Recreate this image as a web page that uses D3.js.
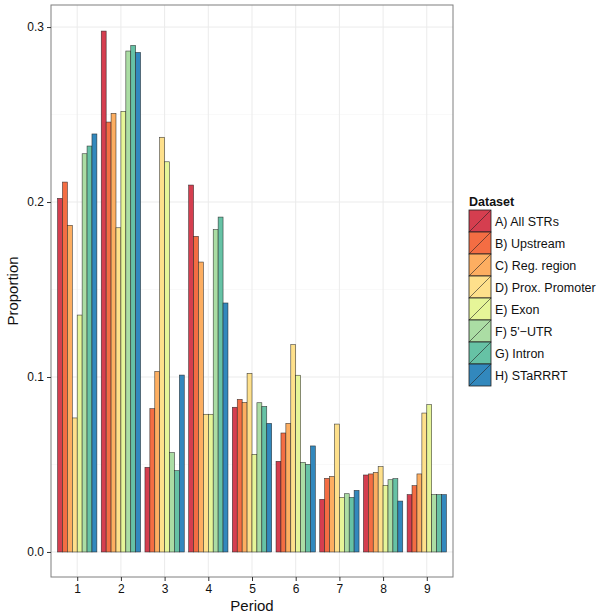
<!DOCTYPE html>
<html><head><meta charset="utf-8">
<script src="https://cdn.jsdelivr.net/npm/d3@7"></script>
<style>body{margin:0;background:#fff}svg{display:block}text{font-family:"Liberation Sans",Arial,Helvetica,sans-serif}</style>
</head><body><svg id="c" width="600" height="616"></svg>
<script>
const periods = ["1","2","3","4","5","6","7","8","9"];
const datasets = ["A) All STRs","B) Upstream","C) Reg. region","D) Prox. Promoter","E) Exon","F) 5'\u2212UTR","G) Intron","H) STaRRRT"];
const colors = ["#D53E4F","#F46D43","#FDAE61","#FEE08B","#E6F598","#ABDDA4","#66C2A5","#3288BD"];
const allSTRs   = [0.2021,0.2977,0.0484,0.2097,0.0827,0.0518,0.0301,0.0440,0.0328];
const upstream  = [0.2114,0.2457,0.0819,0.1804,0.0872,0.0680,0.0421,0.0446,0.0379];
const regRegion = [0.1867,0.2507,0.1032,0.1657,0.0855,0.0735,0.0432,0.0455,0.0446];
const proxProm  = [0.0766,0.1853,0.2370,0.0787,0.1021,0.1185,0.0731,0.0488,0.0794];
const exon      = [0.1354,0.2518,0.2230,0.0787,0.0558,0.1010,0.0312,0.0381,0.0842];
const utr5      = [0.2276,0.2863,0.0568,0.1842,0.0853,0.0512,0.0333,0.0413,0.0328];
const intron    = [0.2320,0.2895,0.0465,0.1914,0.0832,0.0501,0.0312,0.0419,0.0328];
const starrrt   = [0.2389,0.2855,0.1011,0.1423,0.0735,0.0606,0.0352,0.0291,0.0328];
const yTicks = [0.0,0.1,0.2,0.3];
const yTickLabels = ["0.0","0.1","0.2","0.3"];
const series = [allSTRs,upstream,regRegion,proxProm,exon,utr5,intron,starrrt];

const svg = d3.select("#c");
const P = {l:51, r:453, t:5, b:577};
const x = d3.scaleLinear().domain([0.4, 9.6]).range([P.l, P.r]);
const y = d3.scaleLinear().domain([-0.0143, 0.3126]).range([P.b, P.t]);

// panel
svg.append("rect").attr("x",P.l).attr("y",P.t).attr("width",P.r-P.l).attr("height",P.b-P.t).attr("fill","#fff");
const grid = svg.append("g");
[0.05,0.15,0.25].forEach(v=>grid.append("line").attr("x1",P.l).attr("x2",P.r).attr("y1",y(v)).attr("y2",y(v)).attr("stroke","#f5f5f5").attr("stroke-width",0.6));
yTicks.forEach(v=>grid.append("line").attr("x1",P.l).attr("x2",P.r).attr("y1",y(v)).attr("y2",y(v)).attr("stroke","#ebebeb").attr("stroke-width",1));
periods.forEach((p,i)=>grid.append("line").attr("x1",x(i+1)).attr("x2",x(i+1)).attr("y1",P.t).attr("y2",P.b).attr("stroke","#ebebeb").attr("stroke-width",1));

// bars
const bw = 0.9/8;
const bars = svg.append("g");
series.forEach((s,k)=>{
  bars.selectAll(null).data(s).enter().append("rect")
    .attr("x",(d,i)=>x(i+1-0.45+k*bw))
    .attr("width",x(bw)-x(0))
    .attr("y",d=>y(d))
    .attr("height",d=>y(0)-y(d))
    .attr("fill",colors[k])
    .attr("stroke","#222").attr("stroke-width",0.6).attr("stroke-opacity",0.85);
});

svg.append("rect").attr("x",P.l).attr("y",P.t).attr("width",P.r-P.l).attr("height",P.b-P.t).attr("fill","none").attr("stroke","#7f7f7f").attr("stroke-width",1);

// axes
const yAxis = d3.axisLeft(y).tickValues(yTicks).tickFormat((d,i)=>yTickLabels[i]).tickSize(4).tickPadding(3);
const gy = svg.append("g").attr("transform",`translate(${P.l},0)`).call(yAxis);
const xAxis = d3.axisBottom(x).tickValues(periods.map((p,i)=>i+1)).tickFormat((d,i)=>periods[i]).tickSize(4).tickPadding(3);
const gx = svg.append("g").attr("transform",`translate(0,${P.b})`).call(xAxis);
[gy,gx].forEach(g=>{g.select(".domain").remove();g.selectAll(".tick line").attr("stroke","#333");g.selectAll("text").attr("font-size",12).attr("fill","#111").attr("font-family","Liberation Sans, Arial, sans-serif");});

svg.append("text").attr("x",(P.l+P.r)/2).attr("y",611).attr("text-anchor","middle").attr("font-size",15).attr("fill","#111").text("Period");
svg.append("text").attr("transform",`translate(18,${(P.t+P.b)/2}) rotate(-90)`).attr("text-anchor","middle").attr("font-size",15).attr("fill","#111").text("Proportion");

// legend
const lg = svg.append("g").attr("transform","translate(469,210)");
lg.append("text").attr("x",0).attr("y",-4).attr("font-size",12.5).attr("font-weight","bold").attr("fill","#111").text("Dataset");
const ks = 22;
datasets.forEach((d,k)=>{
  const g = lg.append("g").attr("transform",`translate(0,${k*ks})`);
  g.append("rect").attr("x",0).attr("y",0).attr("width",ks).attr("height",ks).attr("fill",colors[k]).attr("stroke","#222").attr("stroke-width",0.8);
  g.append("line").attr("x1",0).attr("y1",ks).attr("x2",ks).attr("y2",0).attr("stroke","#222").attr("stroke-width",0.6);
  g.append("text").attr("x",ks+4).attr("y",ks/2+4.5).attr("font-size",12.5).attr("fill","#111").text(d);
});
</script></body></html>
